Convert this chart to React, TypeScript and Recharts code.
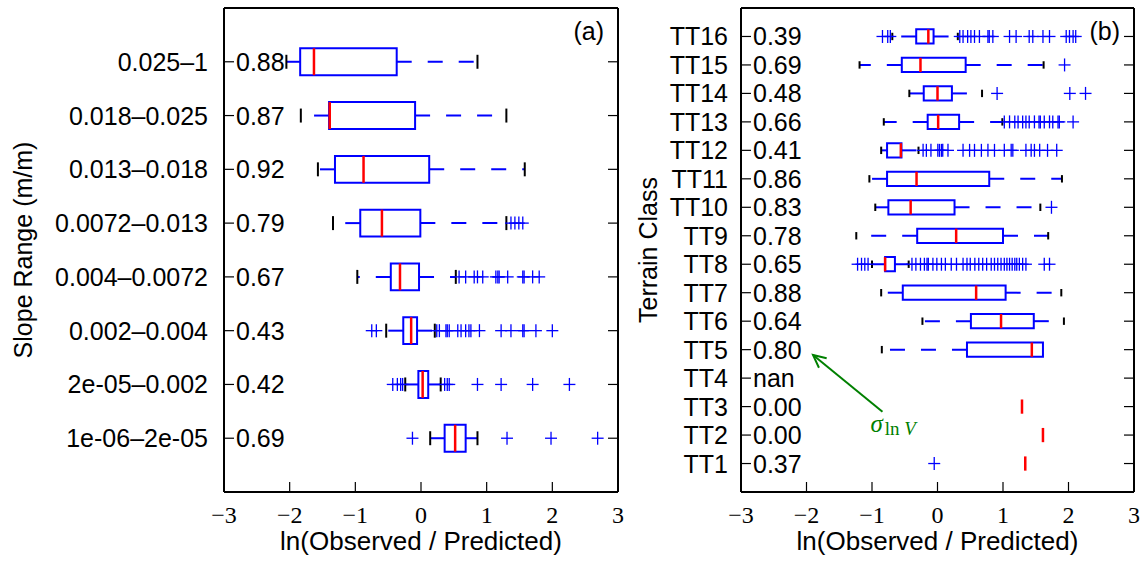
import React from "react";
import { ComposedChart, XAxis, YAxis, ReferenceArea, ReferenceLine, Scatter } from "recharts";

// panel (a): slope ranges, bottom row first
const slopeRanges = ["1e-06–2e-05", "2e-05–0.002", "0.002–0.004", "0.004–0.0072", "0.0072–0.013", "0.013–0.018", "0.018–0.025", "0.025–1"];
const slopeSigma = ["0.69", "0.42", "0.43", "0.67", "0.79", "0.92", "0.87", "0.88"];
const slopeLo = [0.14, -0.24, -0.53, -0.97, -1.34, -1.57, -1.83, -2.05];
const slopeQ1 = [0.36, -0.04, -0.27, -0.46, -0.925, -1.31, -1.4, -1.84];
const slopeMed = [0.52, 0.025, -0.15, -0.32, -0.595, -0.875, -1.39, -1.63];
const slopeQ3 = [0.68, 0.11, -0.06, -0.03, -0.01, 0.125, -0.09, -0.37];
const slopeHi = [0.86, 0.3, 0.21, 0.53, 1.3, 1.58, 1.3, 0.86];
const slopeFliers = [
  [-0.13, 1.31, 1.98, 2.69],
  [-0.43, -0.36, -0.31, -0.28, 0.36, 0.4, 0.43, 0.86, 1.22, 1.7, 2.26],
  [-0.75, -0.68, 0.24, 0.28, 0.38, 0.4, 0.43, 0.56, 0.61, 0.68, 0.73, 0.76, 0.89, 1.22, 1.37, 1.55, 1.57, 1.75, 2.0],
  [0.58, 0.68, 0.81, 0.86, 0.94, 1.14, 1.17, 1.19, 1.32, 1.55, 1.57, 1.7, 1.8],
  [1.37, 1.43, 1.49, 1.55],
  [],
  [],
  [],
];

// panel (b): terrain classes TT1..TT16
const terrainClasses = ["TT1", "TT2", "TT3", "TT4", "TT5", "TT6", "TT7", "TT8", "TT9", "TT10", "TT11", "TT12", "TT13", "TT14", "TT15", "TT16"];
const terrainSigma = ["0.37", "0.00", "0.00", "nan", "0.80", "0.64", "0.88", "0.65", "0.78", "0.83", "0.86", "0.41", "0.66", "0.48", "0.69", "0.39"];
const terrainLo = [null, null, null, null, -0.85, -0.23, -0.86, -1.0, -1.24, -0.95, -1.04, -0.86, -0.82, -0.43, -1.19, -0.69];
const terrainQ1 = [null, null, null, null, 0.45, 0.51, -0.53, -0.8, -0.31, -0.75, -0.77, -0.77, -0.15, -0.21, -0.545, -0.325];
const terrainMed = [1.34, 1.61, 1.29, null, 1.44, 0.97, 0.59, -0.8, 0.285, -0.41, -0.32, -0.56, 0.01, 0.0, -0.26, -0.14];
const terrainQ3 = [null, null, null, null, 1.61, 1.47, 1.04, -0.65, 1.0, 0.26, 0.79, -0.55, 0.33, 0.22, 0.43, -0.06];
const terrainHi = [null, null, null, null, 1.61, 1.93, 1.89, -0.44, 1.69, 1.57, 1.9, -0.29, 0.99, 0.68, 1.62, 0.31];
const terrainFliers = [
  [-0.05],
  [],
  [],
  [],
  [],
  [],
  [],
  [-1.22, -1.16, -1.11, -1.06, -0.39, -0.33, -0.26, -0.2, -0.16, -0.14, -0.07, -0.01, 0.06, 0.12, 0.21, 0.29, 0.39, 0.45, 0.5, 0.57, 0.63, 0.69, 0.75, 0.82, 0.87, 0.92, 0.97, 1.02, 1.06, 1.1, 1.14, 1.18, 1.21, 1.25, 1.3, 1.35, 1.63, 1.71],
  [],
  [1.74],
  [],
  [-0.22, -0.17, -0.1, 0.005, 0.03, 0.06, 0.08, 0.16, 0.39, 0.49, 0.565, 0.67, 0.77, 0.87, 1.02, 1.125, 1.15, 1.35, 1.43, 1.48, 1.56, 1.68, 1.82],
  [1.02, 1.1, 1.18, 1.23, 1.3, 1.35, 1.4, 1.48, 1.55, 1.57, 1.63, 1.71, 1.76, 1.84, 1.86, 2.07],
  [0.91, 2.02, 2.26],
  [1.94],
  [-0.84, -0.76, -0.72, 0.34, 0.39, 0.46, 0.51, 0.565, 0.64, 0.77, 0.79, 0.845, 1.1, 1.2, 1.4, 1.455, 1.61, 1.71, 1.965, 2.015, 2.07, 2.11],
];

const xTicks = [-3, -2, -1, 0, 1, 2, 3];

const BLUE = "#0000ff";
const RED = "#ff0000";
const GREEN = "#008000";
const SANS = "Liberation Sans, Arial, sans-serif";
const SERIF = "Liberation Serif, Times New Roman, serif";

const fmt = (v: number) => (v < 0 ? "\u2212" + Math.abs(v) : String(v));

const Plus = (props: any) => {
  const { cx, cy } = props;
  if (cx == null || cy == null) return <g />;
  return (
    <g>
      <line x1={cx - 6} x2={cx + 6} y1={cy} y2={cy} stroke={BLUE} strokeWidth={1.3} />
      <line x1={cx} x2={cx} y1={cy - 6.5} y2={cy + 6.5} stroke={BLUE} strokeWidth={1.3} />
    </g>
  );
};

const Arrow = (p: any) => {
  const { x1, y1, x2, y2 } = p;
  const a = Math.atan2(y1 - y2, x1 - x2);
  const L = 14;
  const h1x = x2 + L * Math.cos(a + 0.45);
  const h1y = y2 + L * Math.sin(a + 0.45);
  const h2x = x2 + L * Math.cos(a - 0.45);
  const h2y = y2 + L * Math.sin(a - 0.45);
  return (
    <g>
      <line x1={x1} y1={y1} x2={x2} y2={y2} stroke={GREEN} strokeWidth={2} />
      <polyline points={`${h1x},${h1y} ${x2},${y2} ${h2x},${h2y}`} fill="none" stroke={GREEN} strokeWidth={2} />
      <text x={x1 - 12} y={y1 + 20} fill={GREEN} fontFamily={SERIF} fontSize={25} fontStyle="italic">
        σ
        <tspan fontStyle="normal" fontSize={19} dy={3} dx={2}>ln </tspan>
        <tspan fontSize={19}>V</tspan>
      </text>
    </g>
  );
};

type PanelProps = {
  left: number;
  width: number;
  margin: { top: number; right: number; bottom: number; left: number };
  labels: string[];
  sigma: string[];
  lo: (number | null)[];
  q1: (number | null)[];
  med: (number | null)[];
  q3: (number | null)[];
  hi: (number | null)[];
  fliers: number[][];
  yLabel: string;
  yLabelDx: number;
  tag: string;
  labelGap: number;
  arrow?: boolean;
};

function Panel(p: PanelProps) {
  const n = p.labels.length;
  const yTicks = p.labels.map((_, i) => i + 1);
  const boxHalf = 0.25;
  const capHalf = 0.13;
  const ids = { xAxisId: "b", yAxisId: "l", ifOverflow: "visible" as const };

  const flierData = p.fliers.flatMap((row, i) => row.map((x) => ({ x, y: i + 1 })));

  const whiskers: any[] = [];
  const caps: any[] = [];
  const boxes: any[] = [];
  const medians: any[] = [];
  yTicks.forEach((y, i) => {
    const lo = p.lo[i], q1 = p.q1[i], q3 = p.q3[i], hi = p.hi[i], md = p.med[i];
    if (q1 != null && q3 != null && lo != null && hi != null) {
      if (lo < q1) {
        whiskers.push(
          <ReferenceLine key={`wl${i}`} {...ids} segment={[{ x: q1, y }, { x: lo, y }]} stroke={BLUE} strokeWidth={2} strokeDasharray="15 16" />
        );
        caps.push(
          <ReferenceLine key={`cl${i}`} {...ids} segment={[{ x: lo, y: y - capHalf }, { x: lo, y: y + capHalf }]} stroke="#000" strokeWidth={2} />
        );
      }
      if (hi > q3) {
        whiskers.push(
          <ReferenceLine key={`wh${i}`} {...ids} segment={[{ x: q3, y }, { x: hi, y }]} stroke={BLUE} strokeWidth={2} strokeDasharray="15 16" />
        );
        caps.push(
          <ReferenceLine key={`ch${i}`} {...ids} segment={[{ x: hi, y: y - capHalf }, { x: hi, y: y + capHalf }]} stroke="#000" strokeWidth={2} />
        );
      }
      boxes.push(
        <ReferenceArea key={`bx${i}`} {...ids} x1={q1} x2={q3} y1={y - boxHalf} y2={y + boxHalf} fill="none" fillOpacity={0} stroke={BLUE} strokeWidth={2} />
      );
    }
    if (md != null) {
      medians.push(
        <ReferenceLine key={`md${i}`} {...ids} segment={[{ x: md, y: y - boxHalf }, { x: md, y: y + boxHalf }]} stroke={RED} strokeWidth={2.5} />
      );
    }
  });

  const LeftTick = (t: any) => {
    const { x, y, payload } = t;
    const i = payload.value - 1;
    return (
      <g>
        <line x1={x} x2={x + 10} y1={y} y2={y} stroke="#000" strokeWidth={1.2} />
        <text x={x - p.labelGap} y={y} dy="0.36em" textAnchor="end" fontFamily={SANS} fontSize={25} fill="#000">
          {p.labels[i]}
        </text>
        <text x={x + 12} y={y} dy="0.36em" textAnchor="start" fontFamily={SANS} fontSize={25} fill="#000">
          {p.sigma[i]}
        </text>
      </g>
    );
  };
  const RightTick = (t: any) => (
    <line x1={t.x} x2={t.x - 10} y1={t.y} y2={t.y} stroke="#000" strokeWidth={1.2} />
  );
  const BottomTick = (t: any) => (
    <g>
      <line x1={t.x} x2={t.x} y1={t.y} y2={t.y - 10} stroke="#000" strokeWidth={1.2} />
      <text x={t.x} y={t.y + 31} textAnchor="middle" fontFamily={SERIF} fontSize={24} fill="#000">
        {fmt(t.payload.value)}
      </text>
    </g>
  );
  const TopTick = (t: any) => (
    <line x1={t.x} x2={t.x} y1={t.y} y2={t.y + 10} stroke="#000" strokeWidth={1.2} />
  );

  const height = 566;

  return (
    <div style={{ position: "absolute", left: p.left, top: 0, width: p.width, height }}>
      <ComposedChart width={p.width} height={height} margin={p.margin}>
        <XAxis
          xAxisId="b"
          type="number"
          dataKey="x"
          domain={[-3, 3]}
          ticks={xTicks}
          allowDataOverflow
          height={74}
          tickSize={0}
          tickMargin={0}
          tickLine={false}
          interval={0}
          axisLine={{ stroke: "#000", strokeWidth: 2 }}
          tick={BottomTick}
          label={(lp: any) => {
            const vb = lp.viewBox;
            return (
              <text x={vb.x + vb.width / 2} y={vb.y + 58} textAnchor="middle" fontFamily={SANS} fontSize={26} fill="#000">
                ln(Observed / Predicted)
              </text>
            );
          }}
        />
        <XAxis
          xAxisId="t"
          orientation="top"
          type="number"
          domain={[-3, 3]}
          ticks={xTicks}
          allowDataOverflow
          height={1}
          tickSize={0}
          tickMargin={0}
          tickLine={false}
          interval={0}
          axisLine={{ stroke: "#000", strokeWidth: 2 }}
          tick={TopTick}
          label={(lp: any) => {
            const vb = lp.viewBox;
            return (
              <text x={vb.x + vb.width - 14} y={vb.y + 33} textAnchor="end" fontFamily={SANS} fontSize={25} fill="#000">
                {p.tag}
              </text>
            );
          }}
        />
        <YAxis
          yAxisId="l"
          type="number"
          dataKey="y"
          domain={[0, n + 1]}
          ticks={yTicks}
          allowDataOverflow
          width={1}
          tickSize={0}
          tickMargin={0}
          tickLine={false}
          interval={0}
          axisLine={{ stroke: "#000", strokeWidth: 2 }}
          tick={LeftTick}
          label={(lp: any) => {
            const vb = lp.viewBox;
            const cx = vb.x + vb.width + p.yLabelDx;
            const cy = vb.y + vb.height / 2;
            return (
              <text x={cx} y={cy} transform={`rotate(-90 ${cx} ${cy})`} textAnchor="middle" dy="0.36em" fontFamily={SANS} fontSize={25} fill="#000">
                {p.yLabel}
              </text>
            );
          }}
        />
        <YAxis
          yAxisId="r"
          orientation="right"
          type="number"
          domain={[0, n + 1]}
          ticks={yTicks}
          allowDataOverflow
          width={1}
          tickSize={0}
          tickMargin={0}
          tickLine={false}
          interval={0}
          axisLine={{ stroke: "#000", strokeWidth: 2 }}
          tick={RightTick}
        />
        {whiskers}
        {caps}
        {boxes}
        {medians}
        <Scatter xAxisId="b" yAxisId="l" data={flierData} shape={Plus} isAnimationActive={false} />
        {p.arrow && (
          <ReferenceLine {...ids} segment={[{ x: -0.84, y: 2.82 }, { x: -1.9, y: 4.81 }]} shape={Arrow} />
        )}
      </ComposedChart>
    </div>
  );
}

export default function App() {
  return (
    <div style={{ position: "absolute", left: 0, top: 0, width: 1142, height: 566, background: "#fff" }}>
      <Panel
        left={0}
        width={630}
        margin={{ top: 7, right: 11, bottom: 0, left: 223 }}
        labels={slopeRanges}
        sigma={slopeSigma}
        lo={slopeLo}
        q1={slopeQ1}
        med={slopeMed}
        q3={slopeQ3}
        hi={slopeHi}
        fliers={slopeFliers}
        yLabel="Slope Range (m/m)"
        yLabelDx={-201}
        tag="(a)"
        labelGap={16}
      />
      <Panel
        left={630}
        width={512}
        margin={{ top: 7, right: 7, bottom: 0, left: 110 }}
        labels={terrainClasses}
        sigma={terrainSigma}
        lo={terrainLo}
        q1={terrainQ1}
        med={terrainMed}
        q3={terrainQ3}
        hi={terrainHi}
        fliers={terrainFliers}
        yLabel="Terrain Class"
        yLabelDx={-93}
        tag="(b)"
        labelGap={13}
        arrow
      />
    </div>
  );
}
